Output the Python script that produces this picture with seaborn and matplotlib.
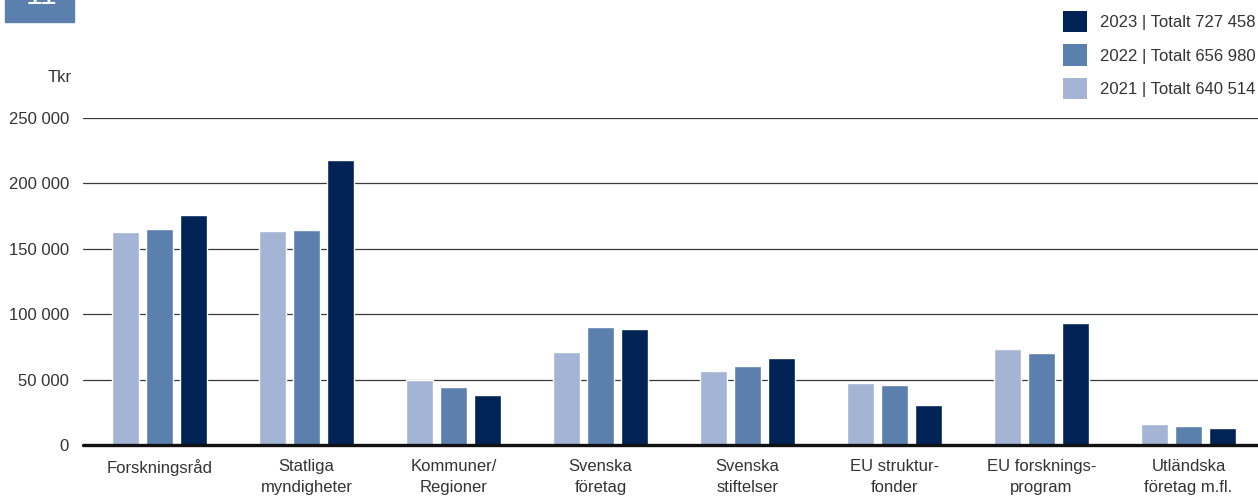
import matplotlib
matplotlib.use("Agg")
import matplotlib.pyplot as plt
from matplotlib.patches import Patch, Rectangle
from matplotlib.ticker import FuncFormatter
import pandas as pd
import seaborn as sns

# ── Data (Tkr) ────────────────────────────────────────────────────────────────
categories = [
    "Forskningsråd", "Statliga\nmyndigheter", "Kommuner/\nRegioner",
    "Svenska\nföretag", "Svenska\nstiftelser", "EU struktur-\nfonder",
    "EU forsknings-\nprogram", "Utländska\nföretag m.fl.",
]
years = ["2021", "2022", "2023"]
values_2021 = [163000, 163600, 49700, 71100, 56600, 47400, 73400, 16100]
values_2022 = [165000, 164400, 44300, 90200, 60400, 45900, 70300, 14500]
values_2023 = [176000, 217900, 38200, 88700, 66500, 30600, 93300, 13000]
legend_labels = {
    "2023": "2023 | Totalt 727 458",
    "2022": "2022 | Totalt 656 980",
    "2021": "2021 | Totalt 640 514",
}
colors = {"2021": "#a3b4d4", "2022": "#5c80ad", "2023": "#002356"}

rows = []
for year, vals in zip(years, [values_2021, values_2022, values_2023]):
    for cat, v in zip(categories, vals):
        rows.append({"category": cat, "year": year, "value": v})
df = pd.DataFrame(rows)

# ── Plot ──────────────────────────────────────────────────────────────────────
sns.set_style("white")
plt.rcParams["font.family"] = ["Liberation Sans", "DejaVu Sans"]
text_color = "#333333"
fs = 12

fig = plt.figure(figsize=(12.58, 4.98), dpi=100)
W, H = 1258, 498
ax = fig.add_axes([83 / W, 1 - 445 / H, (W - 83) / W, (445 - 118) / H])

sns.barplot(data=df, x="category", y="value", hue="year", hue_order=years,
            palette=colors, width=0.694, gap=0.2, saturation=1,
            errorbar=None, legend=False, ax=ax, zorder=3)

ax.set_xlim(-0.52, 7.473)
ax.set_ylim(0, 250000)
ax.set_yticks(range(0, 250001, 50000))
ax.yaxis.set_major_formatter(
    FuncFormatter(lambda v, _: f"{int(v):,}".replace(",", " ")))
ax.grid(axis="y", color="#3a3a3a", linewidth=0.9, zorder=0)
ax.axhline(0, color="#111111", linewidth=2.4, zorder=4, clip_on=False)
for s in ax.spines.values():
    s.set_visible(False)
ax.tick_params(axis="both", length=0, labelsize=fs, colors=text_color)
ax.tick_params(axis="y", pad=10)
ax.tick_params(axis="x", pad=10)
for lbl in ax.get_xticklabels():
    lbl.set_linespacing(1.55)
ax.set_xlabel("")
ax.set_ylabel("")

fig.text(72 / W, 1 - 78 / H, "Tkr", ha="right", va="center",
         fontsize=fs, color=text_color)

# page number tab, cut at the top edge as in the source page
fig.patches.append(Rectangle((5 / W, 1 - 22 / H), 69 / W, 22 / H,
                             transform=fig.transFigure, color="#5c80ad"))
fig.text(41 / W, 1 - 4 / H, "11", ha="center", va="baseline",
         fontsize=22, color="white")

handles = [Patch(facecolor=colors[y], edgecolor="none", label=legend_labels[y])
           for y in ["2023", "2022", "2021"]]
fig.legend(handles=handles, loc="upper right",
           bbox_to_anchor=(1256 / W, 1 - 11 / H), frameon=False,
           fontsize=fs, handlelength=1.45, handleheight=1.6,
           handletextpad=0.8, labelspacing=0.72, borderpad=0,
           borderaxespad=0, labelcolor=text_color)

fig.savefig("out.png", dpi=100)
